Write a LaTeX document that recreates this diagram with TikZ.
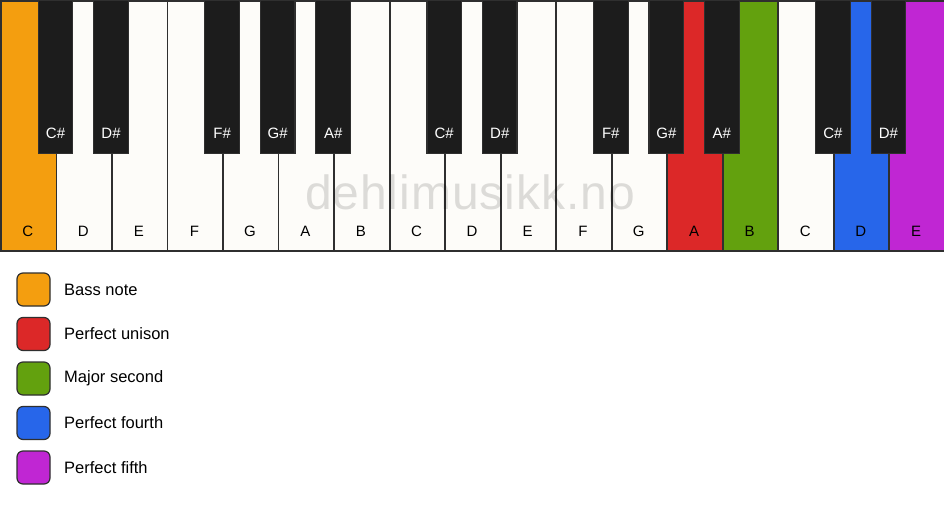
\documentclass[tikz,border=0pt]{standalone}
\usepackage{fontspec}
\setmainfont{Liberation Sans}
\newfontfamily\wmfont[LetterSpace=2]{Liberation Sans}
\definecolor{korange}{HTML}{F49E0F}
\definecolor{kred}{HTML}{DC2828}
\definecolor{kgreen}{HTML}{63A10E}
\definecolor{kblue}{HTML}{2766EA}
\definecolor{kpurple}{HTML}{C026D3}
\definecolor{kwhite}{HTML}{FDFCF9}
\definecolor{kblack}{HTML}{1C1C1C}
\definecolor{kline}{HTML}{2F2F2F}
\tikzset{
  wkey/.style={draw=kline, line width=1.8pt, anchor=north west, inner sep=0pt, minimum width=55.529pt, minimum height=250pt},
  bkey/.style={draw=kline, line width=1.2pt, fill=kblack, anchor=north, inner sep=0pt, minimum width=34.6pt, minimum height=153pt},
  wlabel/.style={font=\fontsize{15}{18}\selectfont, text=black, inner sep=0pt},
  blabel/.style={font=\fontsize{15}{18}\selectfont, text=white, inner sep=0pt},
  legbox/.style={draw=kline, line width=1.2pt, rounded corners=6pt, minimum width=33pt, minimum height=33pt, inner sep=0pt},
  legtext/.style={font=\fontsize{16.5}{20}\selectfont, text=black, anchor=west, inner sep=0pt},
  watermark/.style={font=\wmfont\fontsize{48}{56}\selectfont, text=black, opacity=0.13, anchor=base, inner sep=0pt}
}
\begin{document}
\begin{tikzpicture}[x=1pt,y=-1pt]
\useasboundingbox (0,0) rectangle (944,506);
\fill[white] (0,0) rectangle (944,506);
\foreach \i/\c/\n in {0/korange/C,1/kwhite/D,2/kwhite/E,3/kwhite/F,4/kwhite/G,5/kwhite/A,6/kwhite/B,7/kwhite/C,8/kwhite/D,9/kwhite/E,10/kwhite/F,11/kwhite/G,12/kred/A,13/kgreen/B,14/kwhite/C,15/kblue/D,16/kpurple/E}{
  \node[wkey, fill=\c] (w\i) at ({\i*55.529},0) {};
  \node[wlabel] (lw\i) at ({(\i+0.5)*55.529},231) {\n};
}
\node[watermark] (wm) at (470,209) {dehlimusikk.no};
\foreach \i/\n in {0/C\#,1/D\#,3/F\#,4/G\#,5/A\#,7/C\#,8/D\#,10/F\#,11/G\#,12/A\#,14/C\#,15/D\#}{
  \node[bkey] (b\i) at ({(\i+1)*55.529},0) {};
  \node[blabel] (lb\i) at ({(\i+1)*55.529},133) {\n};
}
\foreach \k/\c/\t/\y in {1/korange/Bass note/289.5,2/kred/Perfect unison/334,3/kgreen/Major second/378.5,4/kblue/Perfect fourth/423,5/kpurple/Perfect fifth/467.5}{
  \node[legbox, fill=\c] (g\k) at (33.5,\y) {};
  \node[legtext] (t\k) at (64,\y) {\t};
}
\end{tikzpicture}
\end{document}
